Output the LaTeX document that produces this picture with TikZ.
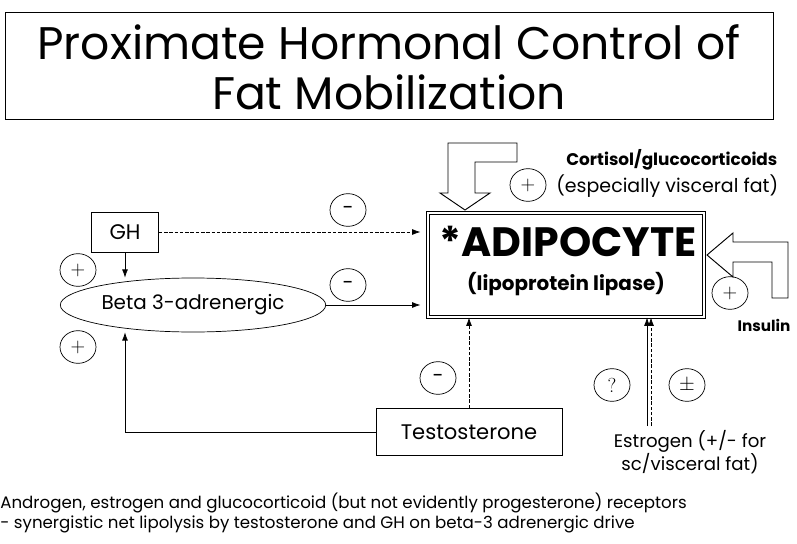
\documentclass[tikz,border=0pt]{standalone}
\usepackage{fontspec}
\setmainfont{Poppins}
\usetikzlibrary{arrows.meta, positioning, shapes.geometric}
\tikzset{
  every picture/.style={line width=0.6pt},
  box/.style={draw, align=center, inner sep=2pt, font=\fontsize{18}{20}\selectfont},
  sign/.style={draw, ellipse, inner sep=0pt, minimum width=1.08cm, minimum height=0.98cm, font=\fontsize{17}{17}\selectfont},
  arrow/.style={-{Latex[length=7pt,width=5pt]}},
  dasharrow/.style={arrow, dash pattern=on 3pt off 1.5pt},
  blockarrow/.style={draw, line width=0.8pt, fill=white, line join=miter},
  title/.style={font=\fontsize{39}{43}\selectfont, align=center},
  note/.style={font=\fontsize{14.2}{16}\selectfont, anchor=west, inner sep=0pt},
}
\begin{document}
\begin{tikzpicture}[x=0.03cm, y=-0.03cm]
  \useasboundingbox (0,0) rectangle (797,544);
  % title
  \draw (5,12) rectangle (773,119);
  \node[title] (head) at (389,67) {Proximate Hormonal Control of\\Fat Mobilization};
  % adipocyte
  \node[draw, double, double distance=1.3pt, line width=1pt, minimum width=8.28cm, minimum height=3.12cm, inner sep=0pt] (adipo) at (566,265) {};
  \node[font=\fontsize{35}{37}\selectfont\bfseries] (adipotxt) at (568,241) {*ADIPOCYTE};
  \node[font=\fontsize{17}{19}\selectfont\bfseries] (lpl) at (566,284) {(lipoprotein lipase)};
  % hormones
  \node[box, minimum width=2.01cm, minimum height=1.2cm] (gh) at (125,232) {GH};
  \node[box, ellipse, minimum width=7.41cm, minimum height=1.62cm, font=\fontsize{17}{19}\selectfont] (beta) at (193,305) {Beta 3-adrenergic};
  \node[box, minimum width=5.58cm, minimum height=1.41cm] (testo) at (469,432) {Testosterone};
  \node[align=center, font=\fontsize{15.5}{18}\selectfont] (estro) at (690,452) {Estrogen (+/- for\\sc/visceral fat)};
  \coordinate (estin) at (649,426);
  \node[anchor=west, inner sep=0pt, font=\fontsize{14.4}{16}\selectfont\bfseries] (cort) at (566,160) {Cortisol/glucocorticoids};
  \node[anchor=west, inner sep=0pt, font=\fontsize{16.2}{18}\selectfont] (visc) at (556,186) {(especially visceral fat)};
  \node[font=\fontsize{13}{15}\selectfont\bfseries] (ins) at (764,325) {Insulin};
  % block arrows
  \draw[blockarrow] (448,143) -- (517,143) -- (517,162) -- (475,162) -- (475,193) -- (490,193)
    -- (465,210) -- (440,193) -- (448,193) -- cycle;
  \draw[blockarrow] (707,255) -- (733,233) -- (733,242) -- (788,242) -- (788,298) -- (772,298)
    -- (772,262) -- (733,262) -- (733,277) -- cycle;
  % signs
  \node[sign] (s1) at (348,210) {-};
  \node[sign] (s2) at (348,285) {-};
  \node[sign] (s3) at (78,270) {$+$};
  \node[sign] (s4) at (78,347) {$+$};
  \node[sign] (s5) at (438,378) {-};
  \node[sign] (s6) at (612,385) {$?$};
  \node[sign] (s7) at (687,385) {$\pm$};
  \node[sign] (s8) at (528,185) {$+$};
  \node[sign] (s9) at (730,293) {$+$};
  % connectors
  \draw[dasharrow, shorten >=0.21cm] (gh.east) -- (gh.east -| adipo.west);
  \draw[arrow] (gh.south) -- (gh.south |- beta.north);
  \draw[arrow, shorten >=0.21cm] (beta.east) -- (beta.east -| adipo.west);
  \draw[arrow] (testo.west) -| (gh.south |- beta.south);
  \draw[dasharrow] (testo.north) -- (testo.north |- adipo.south);
  \draw[arrow] ([xshift=-0.06cm]estin) -- ([xshift=-0.06cm]estin |- adipo.south);
  \draw[dasharrow] ([xshift=0.06cm]estin) -- ([xshift=0.06cm]estin |- adipo.south);
  % notes
  \node[note] (n1) at (0,503) {Androgen, estrogen and glucocorticoid (but not evidently progesterone) receptors};
  \node[note] (n2) at (0,524) {- synergistic net lipolysis by testosterone and GH on beta-3 adrenergic drive};
\end{tikzpicture}
\end{document}
